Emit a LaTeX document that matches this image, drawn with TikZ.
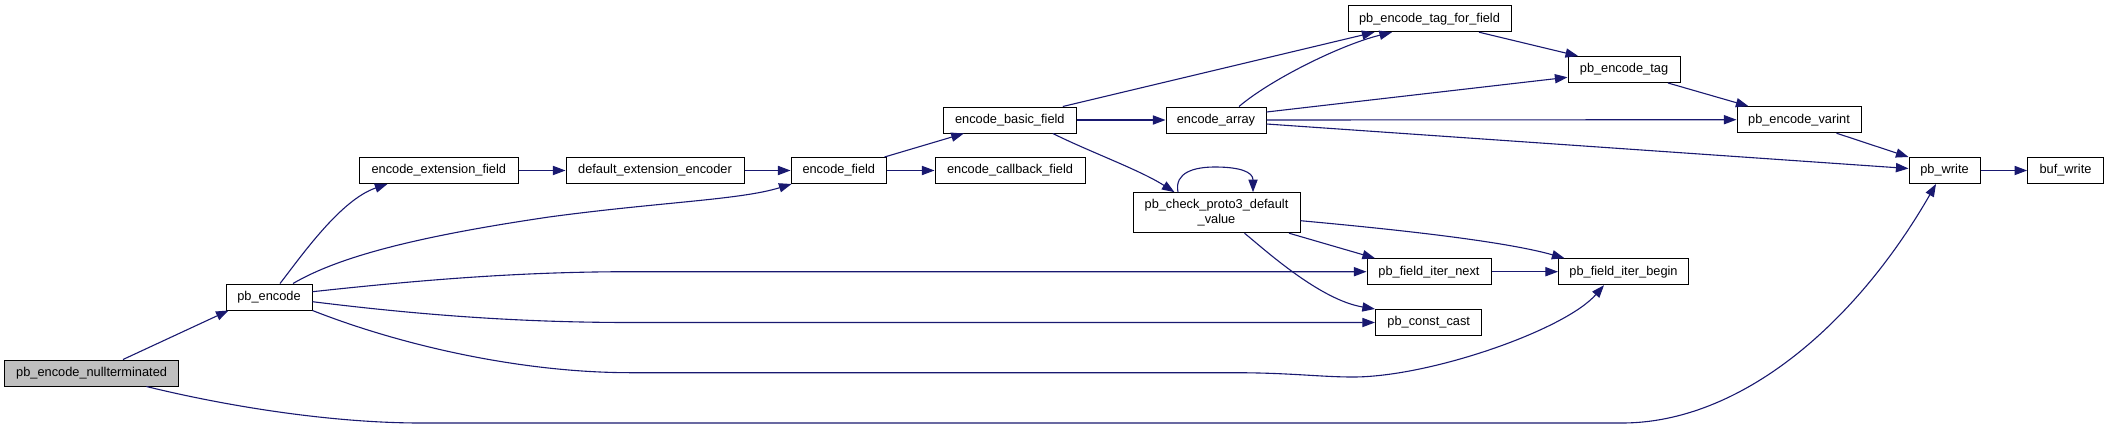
\documentclass[tikz,border=0pt]{standalone}
\usepackage{fontspec}
\setmainfont{Liberation Sans}
\usetikzlibrary{arrows.meta,calc}
\definecolor{edgecol}{HTML}{191970}
\definecolor{ntfill}{HTML}{BFBFBF}
\begin{document}
\begin{tikzpicture}[x=0.5pt,y=-0.5pt,
  fn/.style={draw=black,fill=white,line width=0.5pt,font=\fontsize{6.4}{7.5}\selectfont,minimum height=13pt,inner sep=0pt,align=center},
  ed/.style={draw=edgecol,line width=0.55pt,-{Triangle[length=6.3pt,width=4.6pt]}}]
\useasboundingbox (0,0) rectangle (2108,429);
% nodes
\node[fn,fill=ntfill,minimum width=87pt] (nt) at (91.6,373) {pb\_encode\_nullterminated};
\node[fn,minimum width=43pt] (enc) at (269,297) {pb\_encode};
\node[fn,minimum width=79.8pt] (eef) at (438.8,170.5) {encode\_extension\_field};
\node[fn,minimum width=89pt] (dee) at (655,170.5) {default\_extension\_encoder};
\node[fn,minimum width=47.75pt] (ef) at (838.8,170.5) {encode\_field};
\node[fn,minimum width=75pt] (ecf) at (1010,170.5) {encode\_callback\_field};
\node[fn,minimum width=66.75pt] (ebf) at (1009.8,120) {encode\_basic\_field};
\node[fn,minimum width=50pt] (ea) at (1216,120) {encode\_array};
\node[fn,minimum width=81.5pt] (petf) at (1429.5,18.7) {pb\_encode\_tag\_for\_field};
\node[fn,minimum width=56pt] (pet) at (1624,69.5) {pb\_encode\_tag};
\node[fn,minimum width=62pt] (pev) at (1799,119.7) {pb\_encode\_varint};
\node[fn,minimum width=35.5pt] (pw) at (1944.5,170.5) {pb\_write};
\node[fn,minimum width=37.9pt] (bw) at (2065.5,170.5) {buf\_write};
\node[fn,minimum width=83.5pt,minimum height=20pt] (pcp) at (1216.5,212.7) {pb\_check\_proto3\_default\\\_value};
\node[fn,minimum width=62pt] (pfin) at (1429,271.7) {pb\_field\_iter\_next};
\node[fn,minimum width=65pt] (pfib) at (1623.5,271.7) {pb\_field\_iter\_begin};
\node[fn,minimum width=53.25pt] (pcc) at (1428.7,322.5) {pb\_const\_cast};
% edges
\draw[ed] ($(nt.north)+(31.4,0)$) -- ($(enc.south)+(-40.4,0)$);
\draw[ed] ($(nt.south)+(54.8,0)$) .. controls (226,406) and (330,423) .. (421,423) -- (1622,423)
  .. controls (1740,423) and (1855,325) .. ($(pw.south)+(-8.5,0)$);
\draw[ed] ($(enc.north)+(11,0)$) .. controls (300,258) and (340,200) .. ($(eef.south)+(-51.3,0)$);
\draw[ed] ($(enc.north)+(24,0)$) .. controls (340,256) and (420,236) .. (549,217)
  .. controls (660,202) and (740,200) .. ($(ef.south west)+(1,0)$);
\draw[ed] ($(enc.east)+(0,-5.3)$) .. controls (420,280) and (520,271.7) .. (631,271.7) -- (pfin.west);
\draw[ed] ($(enc.east)+(0,4.7)$) .. controls (420,315) and (520,322.5) .. (631,322.5) -- (pcc.west);
\draw[ed] (enc.south east) .. controls (400,345) and (520,372.7) .. (631,372.7) -- (1233,372.7)
  .. controls (1290,372.7) and (1320,377) .. (1353,377)
  .. controls (1430,377) and (1565,330) .. ($(pfib.south)+(-19.5,0)$);
\draw[ed] (eef.east) -- (dee.west);
\draw[ed] (dee.east) -- (ef.west);
\draw[ed] (ef.east) -- (ecf.west);
\draw[ed] ($(ef.north east)+(-2.5,0)$) -- ($(ebf.south)+(-46,0)$);
\draw[ed] (ebf.east) -- (ea.west);
\draw[ed] ($(ebf.north)+(53,0)$) -- ($(petf.south)+(-55,0)$);
\draw[ed] ($(ea.north)+(23,0)$) .. controls (1270,80) and (1340,45) .. ($(petf.south)+(-37.5,0)$);
\draw[ed] ($(ea.east)+(0,-8)$) -- ($(pet.west)+(0,7.8)$);
\draw[ed] (ea.east) -- (pev.west);
\draw[ed] ($(ea.east)+(0,4)$) -- ($(pw.west)+(0,-2)$);
\draw[ed] ($(petf.south)+(49.5,0)$) -- ($(pet.north west)+(10.6,0)$);
\draw[ed] ($(pet.south)+(44,0)$) -- ($(pev.north west)+(12,0)$);
\draw[ed] ($(pev.south)+(37.5,0)$) -- (pw.north west);
\draw[ed] (pw.east) -- (bw.west);
\draw[ed] ($(ebf.south)+(43,0)$) .. controls (1090,152) and (1140,170) .. ($(pcp.north)+(-42,0)$);
\draw[ed] ($(pcp.north)+(-38.5,0)$) .. controls (1174,172) and (1195,167) .. (1215,167)
  .. controls (1240,167) and (1253,172) .. ($(pcp.north)+(36.5,0)$);
\draw[ed] ($(pcp.south)+(72.5,0)$) -- ($(pfin.north west)+(8.5,0)$);
\draw[ed] ($(pcp.east)+(0,8)$) .. controls (1380,228) and (1500,240) .. ($(pfib.north west)+(6.5,0)$);
\draw[ed] ($(pcp.south)+(28,0)$) .. controls (1265,250) and (1320,300) .. (pcc.north west);
\draw[ed] (pfin.east) -- (pfib.west);
\end{tikzpicture}
\end{document}
